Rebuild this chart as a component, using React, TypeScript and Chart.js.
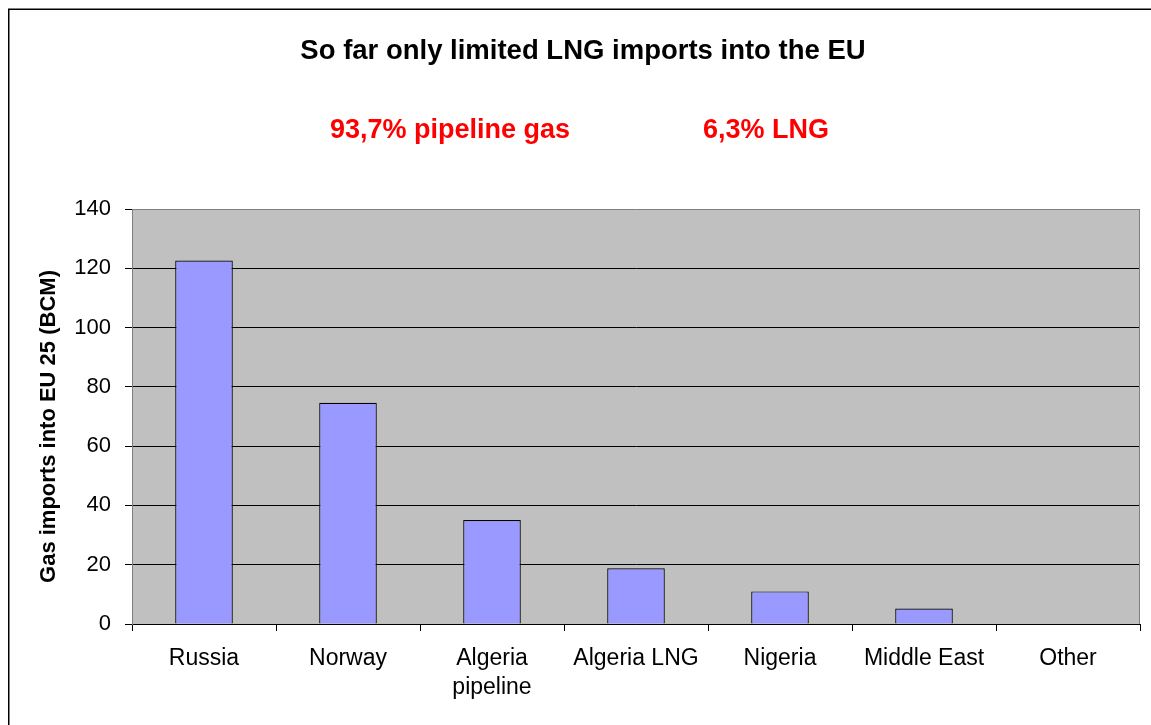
import { useEffect, useRef } from "react";
import { Chart, registerables } from "chart.js";

Chart.register(...registerables);

// ---- data ----
const categories: (string | string[])[] = [
  "Russia",
  "Norway",
  ["Algeria", "pipeline"],
  "Algeria LNG",
  "Nigeria",
  "Middle East",
  "Other",
];
const importsBCM = [122.6, 74.6, 35.1, 18.8, 11.0, 5.2, 0];
const yAxisMin = 0;
const yAxisMax = 140;
const yAxisStep = 20;
const chartTitle = "So far only limited LNG imports into the EU";
const shareLabels = ["93,7% pipeline gas", "6,3% LNG"];
const yAxisTitle = "Gas imports into EU 25 (BCM)";

const FONT = "'Liberation Sans', Arial, sans-serif";

const decorPlugin = {
  id: "decor",
  beforeDraw(chart: any) {
    const { ctx, chartArea: a } = chart;
    ctx.save();
    ctx.fillStyle = "#C0C0C0";
    ctx.fillRect(a.left, a.top, a.right - a.left, a.bottom - a.top);
    ctx.restore();
  },
  afterDraw(chart: any) {
    const { ctx, chartArea: a } = chart;
    ctx.save();
    // right border of plot area
    ctx.strokeStyle = "#808080";
    ctx.lineWidth = 1;
    ctx.beginPath();
    const rx = Math.round(a.right) - 0.5;
    ctx.moveTo(rx, a.top);
    ctx.lineTo(rx, a.bottom);
    ctx.stroke();
    // outer frame (left + top visible)
    ctx.strokeStyle = "#000";
    ctx.lineWidth = 1.5;
    ctx.beginPath();
    ctx.moveTo(8.75, chart.height);
    ctx.lineTo(8.75, 9.25);
    ctx.lineTo(chart.width, 9.25);
    ctx.stroke();
    // red share labels
    ctx.fillStyle = "#FF0000";
    ctx.font = `bold 27px ${FONT}`;
    ctx.textBaseline = "alphabetic";
    ctx.textAlign = "left";
    ctx.fillText(shareLabels[0], 330, 138);
    ctx.fillText(shareLabels[1], 703, 138);
    // y axis title
    ctx.fillStyle = "#000";
    ctx.font = `bold 22px ${FONT}`;
    ctx.translate(54.5, 426.5);
    ctx.rotate(-Math.PI / 2);
    ctx.textAlign = "center";
    ctx.textBaseline = "alphabetic";
    ctx.fillText(yAxisTitle, 0, 0);
    ctx.restore();
  },
};

export default function App() {
  const canvasRef = useRef<HTMLCanvasElement | null>(null);

  useEffect(() => {
    if (!canvasRef.current) return;
    const chart = new Chart(canvasRef.current, {
      type: "bar",
      data: {
        labels: categories,
        datasets: [
          {
            data: importsBCM,
            backgroundColor: "#9999FF",
            borderColor: "#000000",
            borderWidth: 1.2,
            barPercentage: 0.4,
            categoryPercentage: 1,
          },
        ],
      },
      options: {
        animation: false,
        responsive: true,
        maintainAspectRatio: false,
        layout: { padding: { left: 26, right: 11, top: 0, bottom: 0 } },
        plugins: {
          legend: { display: false },
          tooltip: { enabled: false },
          title: {
            display: true,
            text: chartTitle,
            color: "#000",
            font: { family: FONT, size: 27.5, weight: "bold", lineHeight: 1.2 },
            padding: { top: 35, bottom: 141 },
          },
        },
        scales: {
          x: {
            afterFit: (scale: any) => {
              scale.height = 101;
            },
            grid: {
              display: true,
              drawOnChartArea: false,
              drawTicks: true,
              tickLength: 7,
              color: "#000",
              offset: true,
            },
            border: { display: true, color: "#000", width: 1 },
            ticks: {
              color: "#000",
              font: { family: FONT, size: 23, lineHeight: 1.26 },
              padding: 13.5,
              maxRotation: 0,
              minRotation: 0,
              autoSkip: false,
            },
          },
          y: {
            min: yAxisMin,
            max: yAxisMax,
            afterFit: (scale: any) => {
              scale.width = 106;
            },
            grid: {
              color: (c: any) =>
                c.tick && c.tick.value === yAxisMax ? "#808080" : "#000",
              tickColor: "#000",
              tickLength: 7,
              lineWidth: 1,
            },
            border: { display: true, color: "#808080", width: 1 },
            ticks: {
              stepSize: yAxisStep,
              color: "#000",
              font: { family: FONT, size: 22 },
              padding: 14,
            },
          },
        },
      },
      plugins: [decorPlugin],
    } as any);
    return () => chart.destroy();
  }, []);

  return (
    <div
      style={{
        position: "fixed",
        left: 0,
        top: 0,
        width: 1151,
        height: 725,
        background: "#fff",
      }}
    >
      <canvas ref={canvasRef} />
    </div>
  );
}
